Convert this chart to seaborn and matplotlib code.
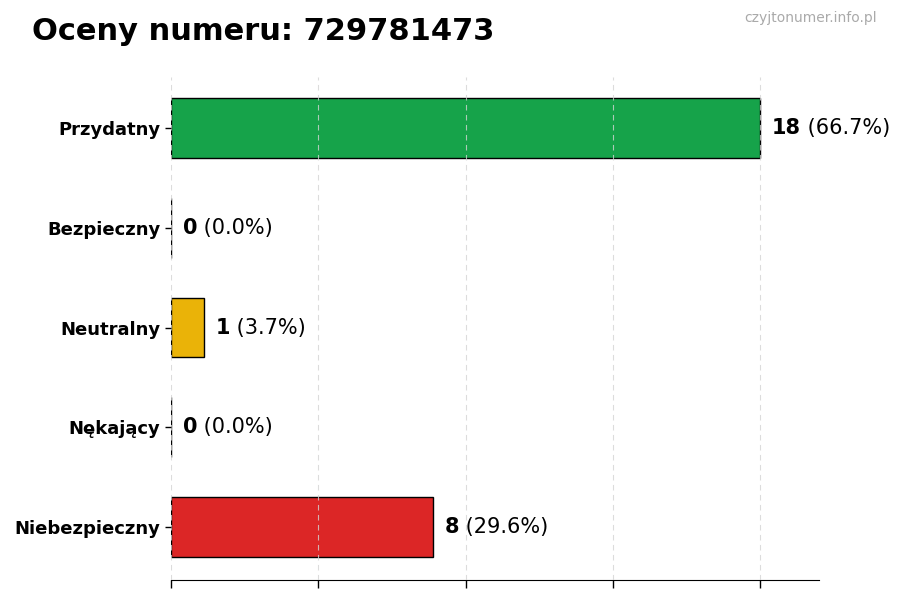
import pandas as pd
import seaborn as sns
import matplotlib.pyplot as plt

categories = ['Przydatny', 'Bezpieczny', 'Neutralny', 'Nękający', 'Niebezpieczny']
counts = [18, 0, 1, 0, 8]
colors = ['#16a34a', '#2563eb', '#eab308', '#f97316', '#dc2626']
phone = '729781473'

total = sum(counts)
df = pd.DataFrame({'kategoria': categories, 'liczba': counts})

sns.set_style('white')
plt.rcParams['font.family'] = ['DejaVu Sans']
plt.rcParams['text.color'] = 'black'
plt.rcParams['ytick.color'] = 'black'
plt.rcParams['xtick.color'] = 'black'

fig = plt.figure(figsize=(9, 6), dpi=100)
ax = fig.add_axes([0.19, 0.0333, 0.72, 0.8384])

sns.barplot(data=df, x='liczba', y='kategoria', hue='kategoria', palette=colors,
            order=categories, legend=False, width=0.6, edgecolor='black',
            linewidth=1, saturation=1, ax=ax)

xmax = max(counts) * 1.1
ax.set_xlim(0, xmax)
ax.set_ylim(len(categories) - 0.47, -0.51)
ax.set_xticks([max(counts) * i / 4 for i in range(5)])
ax.set_xticklabels([])
ax.tick_params(axis='x', length=6, width=1, color='black', bottom=True)
ax.tick_params(axis='y', length=4, width=1, color='black', left=True, labelsize=13,
               labelcolor='black')
for lbl in ax.get_yticklabels():
    lbl.set_fontweight('bold')
ax.set_xlabel('')
ax.set_ylabel('')
ax.grid(axis='x', linestyle=(0, (5, 4)), color='#d4d4d4', linewidth=0.8, alpha=0.8)
ax.set_axisbelow(False)
for s in ['top', 'right', 'left']:
    ax.spines[s].set_visible(False)
ax.spines['bottom'].set_color('black')

for i, v in enumerate(counts):
    pct = v / total * 100
    t1 = ax.text(v + xmax * 0.018, i, f'{v}', fontsize=15, fontweight='bold',
                 va='center', ha='left', color='black')
    ax.annotate(f' ({pct:.1f}%)', xy=(1, 0), xycoords=t1, fontsize=15,
                va='bottom', ha='left', color='black')

fig.text(0.035, 0.948, f'Oceny numeru: {phone}', fontsize=22, fontweight='bold',
         ha='left', va='center', color='black')
fig.text(0.974, 0.97, 'czyjtonumer.info.pl', fontsize=10, color='#aaaaaa',
         ha='right', va='center')

fig.savefig('out.png', dpi=100)
